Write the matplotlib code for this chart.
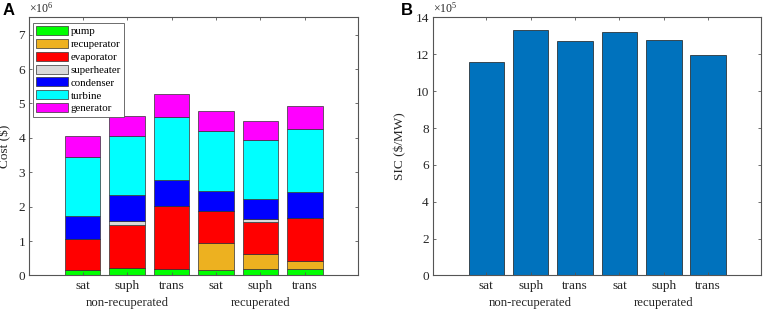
import matplotlib.pyplot as plt
from matplotlib.patches import Patch
from matplotlib.transforms import blended_transform_factory

plt.rcParams['font.family'] = ['Liberation Serif', 'DejaVu Serif']
plt.rcParams['mathtext.fontset'] = 'custom'
plt.rcParams['mathtext.rm'] = 'Liberation Serif'
plt.rcParams['mathtext.it'] = 'Liberation Serif:italic'

cases = ['sat', 'suph', 'trans', 'sat', 'suph', 'trans']
groups = ['non-recuperated', 'recuperated']
components = ['pump', 'recuperator', 'evaporator', 'superheater',
              'condenser', 'turbine', 'generator']
comp_colors = ['#00ff00', '#edb120', '#ff0000', '#d9d9d9',
               '#0000ff', '#00ffff', '#ff00ff']

# component costs (x 10^6 $)
pump = [0.15, 0.21, 0.19, 0.15, 0.20, 0.19]
recuperator = [0.0, 0.0, 0.0, 0.79, 0.43, 0.24]
evaporator = [0.90, 1.27, 1.83, 0.93, 0.92, 1.23]
superheater = [0.0, 0.10, 0.0, 0.0, 0.08, 0.0]
condenser = [0.68, 0.76, 0.76, 0.60, 0.59, 0.76]
turbine = [1.71, 1.72, 1.82, 1.72, 1.71, 1.83]
generator = [0.62, 0.58, 0.69, 0.59, 0.56, 0.69]

# specific investment cost (x 10^5 $/MW)
sic = [11.58, 13.31, 12.71, 13.20, 12.80, 11.95]

stack = [pump, recuperator, evaporator, superheater, condenser, turbine, generator]
x = list(range(1, len(cases) + 1))
axis_col = '#555555'
text_col = '#262626'


def style_axes(ax):
    for s in ax.spines.values():
        s.set_color(axis_col)
        s.set_linewidth(0.8)
    ax.tick_params(direction='in', top=True, right=True, length=2.5,
                   width=0.6, color=axis_col, labelsize=9.5,
                   labelcolor=text_col, pad=3)
    ax.set_xlim(-0.2, 7.2)
    ax.set_xticks(x)
    ax.set_xticklabels(cases)
    trans = blended_transform_factory(ax.transData, ax.transAxes)
    for gx, g in zip([2, 5], groups):
        ax.text(gx, -0.108, g, transform=trans, ha='center', va='center',
                fontsize=9.2, color=text_col)


fig = plt.figure(figsize=(7.65, 3.12), dpi=100)
ax1 = fig.add_axes([0.0383, 0.117, 0.430, 0.827])
ax2 = fig.add_axes([0.566, 0.117, 0.4294, 0.827])

# panel A: stacked component costs
bottom = [0.0] * len(cases)
for vals, col in zip(stack, comp_colors):
    ax1.bar(x, vals, width=0.8, bottom=bottom, color=col,
            edgecolor='#333333', linewidth=0.5)
    bottom = [b + v for b, v in zip(bottom, vals)]
style_axes(ax1)
ax1.set_ylim(0, 7.5)
ax1.set_yticks(range(0, 8))
ax1.set_ylabel('Cost ($)', fontsize=9.5, color=text_col)
ax1.yaxis.set_label_coords(-0.056, 0.5)
ax1.text(0.0, 1.008, r'$\times10^{6}$', transform=ax1.transAxes,
         ha='left', va='bottom', fontsize=8.5, color=text_col)

handles = [Patch(facecolor=c, edgecolor='#333333', linewidth=0.5)
           for c in comp_colors]
leg = ax1.legend(handles, components, loc='upper left',
                 bbox_to_anchor=(0.011, 0.979), borderaxespad=0,
                 fontsize=7.8, fancybox=False, framealpha=1,
                 edgecolor=axis_col, handlelength=2.9, handleheight=0.9,
                 labelspacing=0.24, handletextpad=0.3, borderpad=0.3)
leg.get_frame().set_linewidth(0.6)

# panel B: specific investment cost
ax2.bar(x, sic, width=0.8, color='#0072bd', edgecolor='#1a1a1a', linewidth=0.5)
style_axes(ax2)
ax2.set_ylim(0, 14)
ax2.set_yticks(range(0, 15, 2))
ax2.set_ylabel('SIC ($/MW)', fontsize=9.5, color=text_col)
ax2.yaxis.set_label_coords(-0.08, 0.5)
ax2.text(0.0, 1.008, r'$\times10^{5}$', transform=ax2.transAxes,
         ha='left', va='bottom', fontsize=8.5, color=text_col)

fig.text(0.003, 0.99, 'A', fontsize=12, fontweight='bold',
         family='Liberation Sans', ha='left', va='top')
fig.text(0.524, 0.99, 'B', fontsize=12, fontweight='bold',
         family='Liberation Sans', ha='left', va='top')

fig.savefig('out.png', dpi=100)
